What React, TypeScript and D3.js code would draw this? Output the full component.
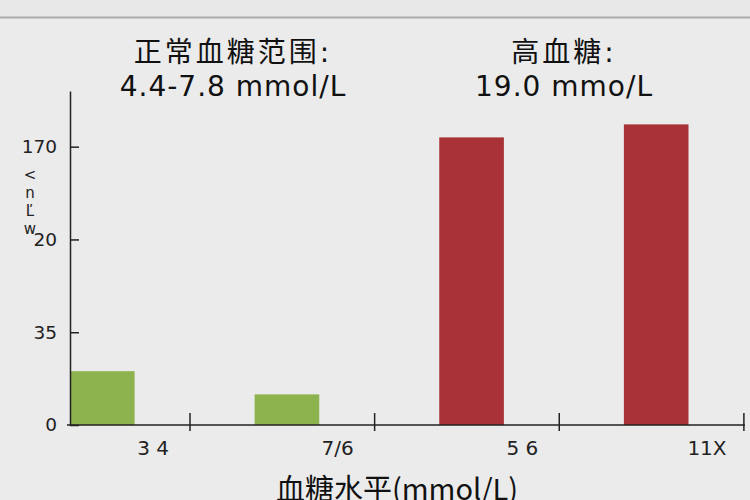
import React, { useEffect, useRef } from 'react';
import * as d3 from 'd3';

// categories on the x axis (as printed) and bar heights in axis units
const categories = ['3 4', '7/6', '5 6', '11X'];
const values = [0.58, 0.33, 3.1, 3.24];
const groups = ['normal', 'normal', 'high', 'high'];

// y ticks sit at 0..3, labels are the ones printed on the chart
const yTickValues = [0, 1, 2, 3];
const yTickLabels = ['0', '35', '20', '170'];
const yLabel = '<nĽw';

const annotationTitles = ['正常血糖范围:', '高血糖:'];
const annotationValues = ['4.4-7.8 mmol/L', '19.0 mmo/L'];
const xTitle = '血糖水平(mmol/L)';

const colors: Record<string, string> = { normal: '#8db34f', high: '#a83236' };

const App = () => {
  const svgRef = useRef<SVGSVGElement>(null);

  useEffect(() => {
    const width = 750;
    const height = 500;
    const svg = d3.select(svgRef.current).attr('width', width).attr('height', height);
    svg.selectAll('*').remove();

    // background
    svg.append('rect').attr('width', width).attr('height', height).attr('fill', '#ebebeb');
    svg.append('rect').attr('width', width).attr('height', 17).attr('fill', '#e7e7e7');
    svg.append('line')
      .attr('x1', 0).attr('x2', width).attr('y1', 17.5).attr('y2', 17.5)
      .attr('stroke', '#ababab').attr('stroke-width', 2);

    const x = d3.scaleBand().domain(categories).range([70, 688.5]).paddingInner(0.65).paddingOuter(0);
    const y = d3.scaleLinear().domain([0, 3.6]).range([425, 91]);

    // bars
    svg.append('g')
      .selectAll('rect')
      .data(values)
      .enter()
      .append('rect')
      .attr('x', (d, i) => x(categories[i]) as number)
      .attr('y', (d) => y(d))
      .attr('width', x.bandwidth())
      .attr('height', (d) => y(0) - y(d))
      .attr('fill', (d, i) => colors[groups[i]]);

    // y axis
    const yAxis = d3.axisLeft(y)
      .tickValues(yTickValues)
      .tickSizeInner(-9)
      .tickSizeOuter(0)
      .tickPadding(13)
      .tickFormat((d, i) => yTickLabels[i]);
    const gy = svg.append('g').attr('transform', 'translate(70,0)').call(yAxis);
    gy.select('.domain').attr('stroke', '#222').attr('stroke-width', 1.5);
    gy.selectAll('.tick line').attr('stroke', '#222').attr('stroke-width', 1.5);
    gy.selectAll('.tick text')
      .attr('font-family', '"DejaVu Sans", sans-serif')
      .attr('font-size', 18.5)
      .attr('fill', '#222');

    // y label, upright glyphs stacked vertically
    svg.append('text')
      .attr('x', 30)
      .attr('y', 166)
      .attr('font-family', '"DejaVu Sans", sans-serif')
      .attr('font-size', 15)
      .attr('fill', '#222')
      .style('writing-mode', 'vertical-rl')
      .style('text-orientation', 'upright')
      .text(yLabel);

    // x axis
    const tickOffset = x.step() * 0.65;
    const xEnd = (x(categories[categories.length - 1]) as number) + tickOffset + 1;
    svg.append('line')
      .attr('x1', 67).attr('x2', xEnd).attr('y1', y(0)).attr('y2', y(0))
      .attr('stroke', '#222').attr('stroke-width', 1.5);
    svg.append('g')
      .selectAll('line')
      .data(categories)
      .enter()
      .append('line')
      .attr('x1', (d) => (x(d) as number) + tickOffset)
      .attr('x2', (d) => (x(d) as number) + tickOffset)
      .attr('y1', y(0) - 12)
      .attr('y2', y(0) + 6)
      .attr('stroke', '#222')
      .attr('stroke-width', 1.5);
    svg.append('g')
      .selectAll('text')
      .data(categories)
      .enter()
      .append('text')
      .attr('x', (d) => (x(d) as number) + x.step() * 0.45)
      .attr('y', 455)
      .attr('text-anchor', 'middle')
      .attr('font-family', '"DejaVu Sans", sans-serif')
      .attr('font-size', 20)
      .attr('fill', '#222')
      .text((d) => d);

    // x title
    svg.append('text')
      .attr('x', 397)
      .attr('y', 500)
      .attr('text-anchor', 'middle')
      .attr('font-family', '"Noto Sans CJK SC", sans-serif')
      .attr('font-size', 29)
      .attr('fill', '#111')
      .text(xTitle);

    // annotations above the two groups of bars
    const annotationX = [233, 564];
    annotationTitles.forEach((title, i) => {
      const t = svg.append('text')
        .attr('text-anchor', 'middle')
        .attr('font-family', '"DejaVu Sans", "Noto Sans CJK SC", sans-serif')
        .attr('font-size', 28)
        .attr('fill', '#111');
      t.append('tspan').attr('x', annotationX[i]).attr('y', 62)
        .attr('letter-spacing', 3).text(title);
      t.append('tspan').attr('x', annotationX[i]).attr('y', 96)
        .attr('letter-spacing', 1).text(annotationValues[i]);
    });
  }, []);

  return (
    <div style={{ position: 'fixed', left: 0, top: 0 }}>
      <svg ref={svgRef} style={{ display: 'block' }}></svg>
    </div>
  );
};

export default App;
